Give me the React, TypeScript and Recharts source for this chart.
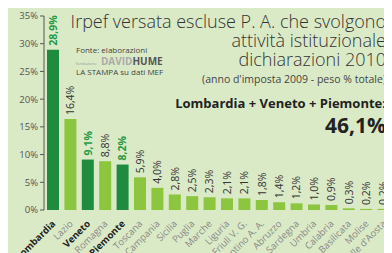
import React from "react";
import { BarChart, Bar, XAxis, YAxis, Cell, LabelList } from "recharts";

const regions = [
  "Lombardia", "Lazio", "Veneto", "E. Romagna", "Piemonte", "Toscana",
  "Campania", "Sicilia", "Puglia", "Marche", "Liguria", "Friuli V. G.",
  "Trentino A. A.", "Abruzzo", "Sardegna", "Umbria", "Calabria",
  "Basilicata", "Molise", "Valle d'Aosta",
];
const shares = [
  28.9, 16.4, 9.1, 8.8, 8.2, 5.9, 4.0, 2.8, 2.5, 2.3, 2.1, 2.1, 1.8, 1.4,
  1.2, 1.0, 0.9, 0.3, 0.2, 0.2,
];
const highlighted = ["Lombardia", "Veneto", "Piemonte"];
const yTicks = [0, 5, 10, 15, 20, 25, 30, 35];

const titleLines = [
  "Irpef versata escluse P. A. che svolgono",
  "attività istituzionale",
  "dichiarazioni 2010",
];
const subtitle = "(anno d'imposta 2009 - peso % totale)";
const totalLabel = "Lombardia + Veneto + Piemonte:";
const totalValue = "46,1%";

const data = regions.map((name, i) => ({ name, value: shares[i] }));

const DARK = "#1f8b3f";
const LIGHT = "#8cc63f";
const BG = "#dbeac6";
const FONT = "'Open Sans', sans-serif";
const W = 384;
const H = 245;

const fmt = (v: number) => v.toFixed(1).replace(".", ",") + "%";

function XTick(props: any) {
  const { x, y, payload } = props;
  const hl = highlighted.includes(payload.value);
  return (
    <text
      x={x + 1}
      y={y + 4}
      transform={`rotate(-45, ${x + 1}, ${y + 4})`}
      textAnchor="end"
      fontSize={9.5}
      fontFamily={FONT}
      fontWeight={hl ? 700 : 400}
      fill={hl ? "#222" : "#888"}
      dy="0.35em"
    >
      {payload.value}
    </text>
  );
}

function ValueLabel(props: any) {
  const { x, y, width, value, index } = props;
  const hl = highlighted.includes(regions[index]);
  const cx = x + width / 2;
  const ty = y - 4;
  return (
    <text
      x={cx}
      y={ty}
      transform={`rotate(-90, ${cx}, ${ty})`}
      textAnchor="start"
      dy="0.36em"
      fontSize={10.5}
      fontFamily={FONT}
      fontWeight={hl ? 700 : 400}
      fill={hl ? "#1f9a45" : "#333"}
    >
      {fmt(value)}
    </text>
  );
}

export default function App() {
  return (
    <div
      style={{
        position: "relative",
        width: W,
        height: H,
        background: BG,
        overflow: "hidden",
      }}
    >
      <BarChart
        width={W}
        height={H}
        data={data}
        margin={{ top: 8, right: 0, left: 0, bottom: 0 }}
      >
        <YAxis
          width={36}
          domain={[0, 35]}
          ticks={yTicks}
          tickFormatter={(v) => `${v}%`}
          tick={{ fontSize: 9.5, fill: "#555", fontFamily: FONT }}
          tickSize={4}
          axisLine={{ stroke: "#555" }}
          tickLine={{ stroke: "#555" }}
        />
        <XAxis
          dataKey="name"
          interval={0}
          height={43}
          axisLine={false}
          tickLine={false}
          tick={<XTick />}
        />
        <Bar dataKey="value" barSize={12} isAnimationActive={false}>
          {data.map((d) => (
            <Cell
              key={d.name}
              fill={highlighted.includes(d.name) ? DARK : LIGHT}
            />
          ))}
          <LabelList dataKey="value" content={<ValueLabel />} />
        </Bar>
      </BarChart>

      {/* title and source */}
      <svg
        width={W}
        height={H}
        style={{ position: "absolute", left: 0, top: 0, pointerEvents: "none" }}
        fontFamily={FONT}
      >
        {titleLines.map((t, i) => (
          <text
            key={t}
            x={378}
            y={20 + i * 19}
            textAnchor="end"
            fontSize={18}
            fontWeight={300}
            fill="#333"
          >
            {t}
          </text>
        ))}
        <text x={378} y={75} textAnchor="end" fontSize={10.5} fill="#444">
          {subtitle}
        </text>
        <text
          x={378}
          y={100}
          textAnchor="end"
          fontSize={13}
          fontWeight={700}
          fill="#222"
        >
          {totalLabel}
        </text>
        <text
          x={378}
          y={125}
          textAnchor="end"
          fontSize={21}
          fontWeight={700}
          fill="#222"
        >
          {totalValue}
        </text>

        <text x={68} y={45} fontSize={8} fill="#444">
          Fonte: elaborazioni
        </text>
        <text x={68} y={57} fontSize={10} fontWeight={700}>
          <tspan fontSize={4} fontWeight={400} fill="#999">
            fondazione{" "}
          </tspan>
          <tspan dx={3} fill="#aaa">DAVID</tspan>
          <tspan fill="#555">HUME</tspan>
        </text>
        <text x={68} y={67} fontSize={8} fill="#444">
          LA STAMPA su dati MEF
        </text>
      </svg>
    </div>
  );
}
